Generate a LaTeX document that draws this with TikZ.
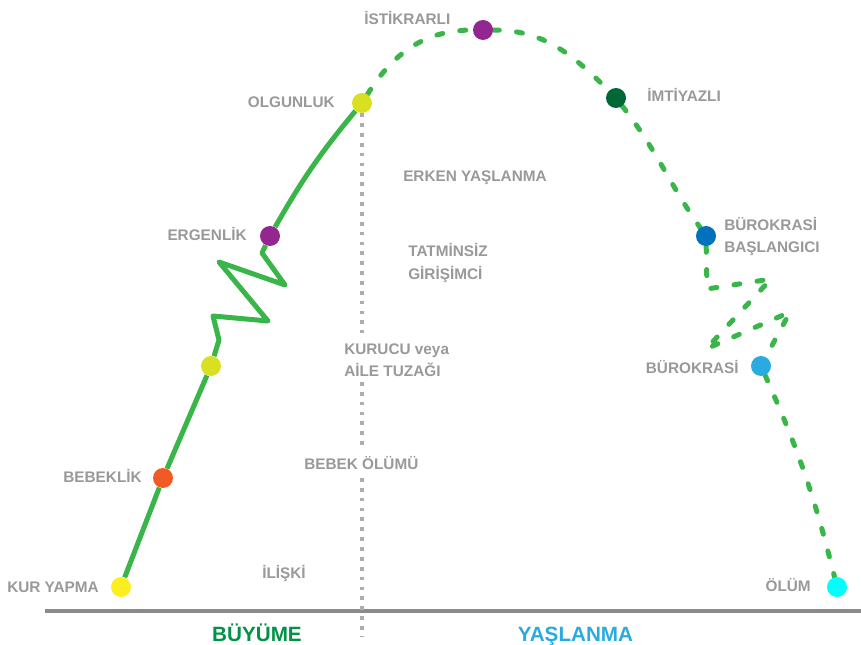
\documentclass[tikz,border=0pt]{standalone}
\usepackage{fontspec}
\setmainfont{Liberation Sans}
\usetikzlibrary{backgrounds}

\definecolor{lifegreen}{HTML}{39B54A}
\definecolor{labelgray}{HTML}{999999}
\definecolor{linegray}{HTML}{ADADAD}
\definecolor{axisgray}{HTML}{8A8A8A}
\definecolor{growgreen}{HTML}{009245}
\definecolor{agingblue}{HTML}{29ABE2}
\definecolor{kuryel}{HTML}{FCEE21}
\definecolor{bebekor}{HTML}{F15A24}
\definecolor{lime}{HTML}{D9E021}
\definecolor{mor}{HTML}{93278F}
\definecolor{koyuyesil}{HTML}{006837}
\definecolor{mavi}{HTML}{0071BC}
\definecolor{acikmavi}{HTML}{29ABE2}
\definecolor{camgobegi}{HTML}{00FFFF}

\begin{document}
\begin{tikzpicture}[x=0.75pt,y={(0pt,-0.75pt)},
  dot/.style={circle,minimum size=15pt,inner sep=0pt},
  lbl/.style={font=\bfseries\fontsize{11.5}{14}\selectfont,text=labelgray,inner sep=0pt,text height=8.2pt,text depth=0pt},
  phase/.style={font=\bfseries\fontsize{15.5}{18}\selectfont,inner sep=0pt,text height=11.1pt,text depth=0pt},
  growline/.style={draw=lifegreen,line width=3.75pt,line join=round},
  ageline/.style={growline,line cap=round,dash pattern=on 4.5pt off 13pt},
  vline/.style={draw=linegray,line width=2.6pt,dash pattern=on 2.8pt off 4.6pt},
  axisline/.style={draw=axisgray,line width=2.5pt}]
  \useasboundingbox (0,0) rectangle (861,645);

  % stages on the curve
  \node[dot,fill=kuryel] (kur) at (121,587) {};
  \node[dot,fill=bebekor] (bebek) at (163,478) {};
  \node[dot,fill=lime] (gogo) at (211,366) {};
  \node[dot,fill=mor] (ergen) at (270,236) {};
  \node[dot,fill=lime] (olgun) at (362,103) {};
  \node[dot,fill=mor] (istik) at (483,30) {};
  \node[dot,fill=koyuyesil] (imtiyaz) at (616,98) {};
  \node[dot,fill=mavi] (burbas) at (706,236) {};
  \node[dot,fill=acikmavi] (buro) at (761,366) {};
  \node[dot,fill=camgobegi] (olum) at (837,587) {};

  % labels
  \node[lbl,anchor=east] (kurl) at (99,587) {KUR YAPMA};
  \node[lbl,anchor=east] (bebekl) at (142,477.5) {BEBEKLİK};
  \node[lbl,anchor=east] (ergenl) at (247,235) {ERGENLİK};
  \node[lbl,anchor=east] (olgunl) at (335,102.5) {OLGUNLUK};
  \node[lbl,anchor=west] (istikl) at (364,18.7) {İSTİKRARLI};
  \node[lbl,anchor=west] (imtiyazl) at (647,96.3) {İMTİYAZLI};
  \node[lbl,anchor=west] (burbasl) at (724,225) {BÜROKRASİ};
  \node[lbl,anchor=west] (burbasm) at (724,247.5) {BAŞLANGICI};
  \node[lbl,anchor=east] (burol) at (739,368) {BÜROKRASİ};
  \node[lbl,anchor=east] (oluml) at (811,586) {ÖLÜM};
  \node[lbl,anchor=west] (iliski) at (262,573) {İLİŞKİ};
  \node[lbl,anchor=west] (bebekolum) at (304,464) {BEBEK ÖLÜMÜ};
  \node[lbl,anchor=west] (kurucu) at (344,349) {KURUCU veya};
  \node[lbl,anchor=west] (tuzak) at (344,371) {AİLE TUZAĞI};
  \node[lbl,anchor=west] (tatmin) at (408,251) {TATMİNSİZ};
  \node[lbl,anchor=west] (girisim) at (408,274) {GİRİŞİMCİ};
  \node[lbl,anchor=west] (erken) at (403,176) {ERKEN YAŞLANMA};
  \node[phase,text=growgreen] (buyume) at (257,634) {BÜYÜME};
  \node[phase,text=agingblue] (yaslanma) at (575.5,634) {YAŞLANMA};

  % zigzag corners
  \coordinate (s1) at (219,340);
  \coordinate (s2) at (213,316);
  \coordinate (s3) at (268,321);
  \coordinate (s4) at (219,262);
  \coordinate (s5) at (285,285);
  \coordinate (s6) at (262,253);
  \coordinate (z1) at (707,289);
  \coordinate (z2) at (771,279);
  \coordinate (z3) at (706,349);
  \coordinate (z4) at (790,312);
  % dotted divider and axis ends
  \coordinate (v1) at (362,333);
  \coordinate (v2) at (362,382);
  \coordinate (v3) at (362,448);
  \coordinate (v4) at (362,478);
  \coordinate (v5) at (362,637);
  \coordinate (axl) at (45,611);
  \coordinate (axr) at (861,611);

  \begin{pgfonlayer}{background}
    \draw[axisline] (axl) -- (axr);
    \draw[vline] (olgun) -- (v1);
    \draw[vline] (v2) -- (v3);
    \draw[vline] (v4) -- (v5);
    \draw[growline] (kur) -- (bebek) -- (gogo) -- (s1) -- (s2) -- (s3) -- (s4) -- (s5) -- (s6) -- (ergen) to[bend left=5] (olgun);
    \draw[ageline] (olgun) to[out=58,in=180] (istik) to[out=0,in=135] (imtiyaz) to[out=-52,in=125] (burbas)
      -- (z1) -- (z2) -- (z3) -- (z4) -- (buro) to[bend left=5] (olum);
  \end{pgfonlayer}
\end{tikzpicture}
\end{document}
